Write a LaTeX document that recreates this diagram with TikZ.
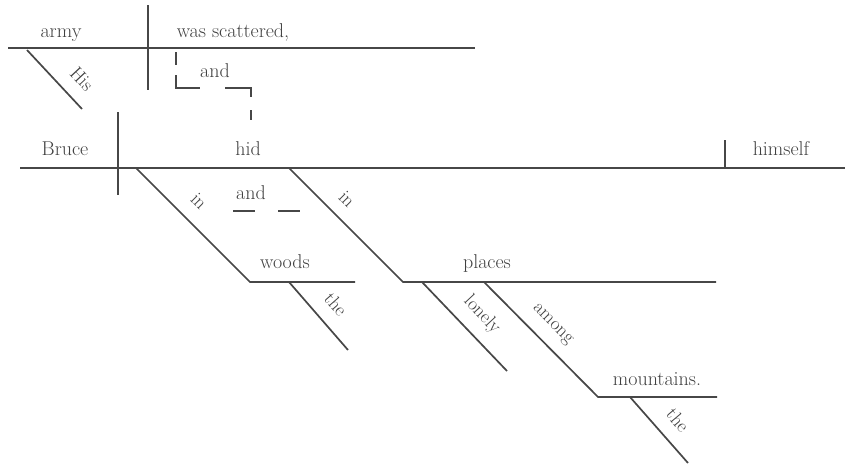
\documentclass[tikz,border=0pt]{standalone}
\begin{document}
\begin{tikzpicture}[x=1pt,y=-1pt,
  ln/.style={draw=black!72,line width=1.7pt},
  wd/.style={text=black!75,font=\fontsize{20}{22}\selectfont,inner sep=0pt,anchor=base},
  sl/.style={text=black!75,font=\fontsize{19}{21}\selectfont,inner sep=0pt}]
\useasboundingbox (0,0) rectangle (845,466);
% top clause
\coordinate (t1) at (8,48); \coordinate (t2) at (475,48);
\coordinate (tv1) at (148,5); \coordinate (tv2) at (148,90);
\draw[ln] (t1) -- (t2);
\draw[ln] (tv1) -- (tv2);
\node[wd] (army) at (61,37) {army};
\node[wd] (ws) at (233,37) {was scattered,};
\coordinate (h1) at (27,50); \coordinate (h2) at (82,109);
\draw[ln] (h1) -- (h2);
\node[sl,rotate=-47] (his) at (82,79) {His};
% dashed conjunction between clauses
\draw[ln] (176,52) -- (176,65);
\draw[ln] (176,75) -- (176,88) -- (200,88);
\draw[ln] (225,88) -- (251,88) -- (251,97);
\draw[ln] (251,110) -- (251,120);
\node[wd] (and1) at (215,77) {and};
% main clause
\coordinate (m1) at (20,168); \coordinate (m2) at (845,168);
\draw[ln] (m1) -- (m2);
\draw[ln] (118,112) -- (118,195);
\draw[ln] (725,140) -- (725,168);
\node[wd] (bruce) at (65,155) {Bruce};
\node[wd] (hid) at (248,155) {hid};
\node[wd] (himself) at (781,155) {himself};
% prep 1
\coordinate (p1a) at (136,168); \coordinate (p1b) at (250,282); \coordinate (p1c) at (355,282);
\draw[ln] (p1a) -- (p1b) -- (p1c);
\node[sl,rotate=-45] (in1) at (199,201) {in};
\node[wd] (woods) at (285,268) {woods};
\draw[ln] (289,282) -- (348,350);
\node[sl,rotate=-49] (the1) at (336,304) {the};
% and between preps
\draw[ln] (233,211) -- (255,211);
\draw[ln] (278,211) -- (300,211);
\node[wd] (and2) at (251,199) {and};
% prep 2
\coordinate (p2a) at (289,168); \coordinate (p2b) at (403,282); \coordinate (p2c) at (716,282);
\draw[ln] (p2a) -- (p2b) -- (p2c);
\node[sl,rotate=-45] (in2) at (347,199) {in};
\node[wd] (places) at (487,268) {places};
\draw[ln] (422,282) -- (507,371);
\node[sl,rotate=-47] (lonely) at (482,315) {lonely};
\coordinate (a1) at (484,282); \coordinate (a2) at (598,397); \coordinate (a3) at (717,397);
\draw[ln] (a1) -- (a2) -- (a3);
\node[sl,rotate=-45] (among) at (552,325) {among};
\node[wd] (mount) at (657,385) {mountains.};
\draw[ln] (630,397) -- (688,463);
\node[sl,rotate=-50] (the2) at (678,420) {the};
\end{tikzpicture}
\end{document}
